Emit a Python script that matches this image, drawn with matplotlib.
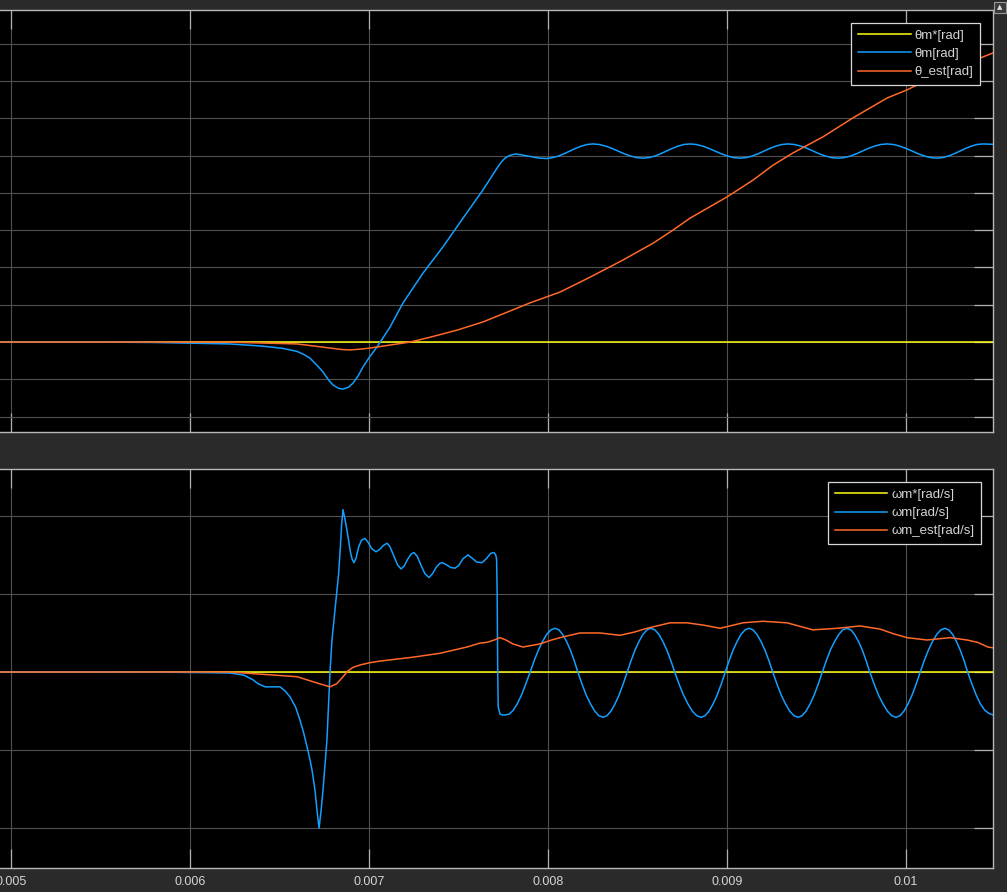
import numpy as np
import matplotlib
matplotlib.use("Agg")
import matplotlib.pyplot as plt
from matplotlib.patches import Rectangle

# ---------------- data (time in ms) ----------------
x_ticks = [0.005, 0.006, 0.007, 0.008, 0.009, 0.010]
x_tick_labels = ["0.005", "0.006", "0.007", "0.008", "0.009", "0.01"]

ref_t = [4.90, 10.55]
theta_ref = [0.0, 0.0]
omega_ref = [0.0, 0.0]

theta_m_t = [4.90, 5.50, 5.80, 6.2235, 6.408, 6.520, 6.598, 6.635, 6.670, 6.705, 6.743, 6.775, 6.799,
             6.830, 6.855, 6.885, 6.911, 6.940, 6.966, 7.000, 7.045, 7.117, 7.190, 7.302, 7.413,
             7.525, 7.637, 7.715, 7.738, 7.760, 7.785, 7.816, 7.850, 7.883, 7.950, 7.994,
             8.026, 8.058, 8.090, 8.122, 8.155, 8.187, 8.219, 8.251,
             8.286, 8.321, 8.356, 8.391, 8.426, 8.461, 8.496, 8.531,
             8.564, 8.597, 8.629, 8.662, 8.695, 8.728, 8.760, 8.793,
             8.828, 8.863, 8.898, 8.933, 8.968, 9.003, 9.038, 9.073,
             9.107, 9.140, 9.174, 9.207, 9.241, 9.274, 9.308, 9.341,
             9.376, 9.411, 9.446, 9.481, 9.515, 9.550, 9.585, 9.620,
             9.654, 9.689, 9.723, 9.757, 9.791, 9.826, 9.860, 9.894,
             9.929, 9.964, 9.999, 10.034, 10.068, 10.103, 10.138, 10.173,
             10.205, 10.237, 10.269, 10.302, 10.334, 10.366, 10.398, 10.430,
             10.486, 10.55]
theta_m = [0.0, 0.0, -0.01, -0.05, -0.11, -0.17, -0.25, -0.33, -0.43, -0.60, -0.80, -1.02, -1.15,
           -1.24, -1.26, -1.21, -1.10, -0.90, -0.67, -0.42, -0.13, 0.40, 1.05, 1.85, 2.55,
           3.32, 4.08, 4.66, 4.82, 4.93, 5.00, 5.04, 5.02, 4.99, 4.93, 4.92,
           4.944, 4.986, 5.047, 5.12, 5.193, 5.254, 5.296, 5.31,
           5.296, 5.254, 5.193, 5.12, 5.047, 4.986, 4.944, 4.93,
           4.944, 4.986, 5.047, 5.12, 5.193, 5.254, 5.296, 5.31,
           5.296, 5.254, 5.193, 5.12, 5.047, 4.986, 4.944, 4.93,
           4.944, 4.986, 5.047, 5.12, 5.193, 5.254, 5.296, 5.31,
           5.296, 5.254, 5.193, 5.12, 5.047, 4.986, 4.944, 4.93,
           4.944, 4.986, 5.047, 5.12, 5.193, 5.254, 5.296, 5.31,
           5.296, 5.254, 5.193, 5.12, 5.047, 4.986, 4.944, 4.93,
           4.944, 4.986, 5.047, 5.12, 5.193, 5.254, 5.296, 5.31,
           5.30, 5.27]

theta_est_t = [4.90, 6.20, 6.598, 6.700, 6.782, 6.850, 6.894, 6.950, 7.006, 7.117, 7.229, 7.341,
               7.492, 7.637, 7.771, 7.899, 8.067, 8.235, 8.419, 8.587, 8.698, 8.793, 9.000,
               9.145, 9.257, 9.369, 9.536, 9.704, 9.894, 10.006, 10.117, 10.285, 10.413,
               10.486, 10.55]
theta_est = [0.0, 0.0, -0.05, -0.11, -0.16, -0.20, -0.21, -0.19, -0.16, -0.08, 0.0, 0.13,
             0.32, 0.54, 0.80, 1.05, 1.34, 1.74, 2.20, 2.65, 3.00, 3.32, 3.89,
             4.34, 4.74, 5.07, 5.50, 6.01, 6.54, 6.76, 7.02, 7.37, 7.61,
             7.75, 7.85]

omega_m_t = [4.90, 5.50, 5.90, 6.10, 6.2235, 6.30, 6.352, 6.380, 6.42, 6.503, 6.530, 6.559,
             6.590, 6.615, 6.635, 6.654, 6.670, 6.682, 6.698, 6.710, 6.721, 6.732, 6.743, 6.765,
             6.782, 6.793, 6.830, 6.840, 6.848, 6.855, 6.862, 6.872, 6.883, 6.895, 6.905, 6.916,
             6.928, 6.942, 6.958, 6.978, 6.995, 7.015, 7.039, 7.060, 7.080, 7.101, 7.118, 7.140,
             7.160, 7.179, 7.197, 7.215, 7.235, 7.251, 7.270, 7.290, 7.312, 7.335, 7.355, 7.375,
             7.395, 7.408, 7.428, 7.455, 7.480, 7.500, 7.525, 7.553, 7.575, 7.600, 7.631, 7.655,
             7.680, 7.698, 7.708, 7.713, 7.716, 7.719, 7.722, 7.732, 7.745,
             7.760, 7.783, 7.806, 7.830, 7.853, 7.876, 7.899,
             7.922, 7.946, 7.969, 7.992, 8.016, 8.039,
             8.061, 8.082, 8.104, 8.125, 8.147, 8.168,
             8.191, 8.214, 8.238, 8.261, 8.284, 8.307,
             8.329, 8.352, 8.374, 8.396, 8.419, 8.441,
             8.463, 8.486, 8.508, 8.530, 8.553, 8.575,
             8.597, 8.620, 8.642, 8.664, 8.687, 8.709,
             8.733, 8.758, 8.782, 8.806, 8.831, 8.855,
             8.877, 8.900, 8.922, 8.944, 8.967, 8.989,
             9.011, 9.034, 9.056, 9.078, 9.101, 9.123,
             9.145, 9.168, 9.190, 9.212, 9.235, 9.257,
             9.280, 9.304, 9.327, 9.350, 9.374, 9.397,
             9.419, 9.442, 9.464, 9.486, 9.509, 9.531,
             9.554, 9.577, 9.601, 9.624, 9.647, 9.670,
             9.692, 9.713, 9.735, 9.756, 9.778, 9.799,
             9.823, 9.847, 9.872, 9.896, 9.920, 9.944,
             9.966, 9.989, 10.011, 10.033, 10.056, 10.078,
             10.101, 10.125, 10.148, 10.171, 10.195, 10.218,
             10.239, 10.261, 10.282, 10.303, 10.325, 10.346,
             10.369, 10.393, 10.416, 10.440, 10.463, 10.486, 10.55]
omega_m = [0, 0, -0.3, -0.8, -1.3, -4, -10, -15, -19, -19, -24, -32,
           -45, -62, -78, -96, -112, -126, -151, -178, -200, -178, -151, -87,
           -1, 41, 125, 160, 192, 208, 200, 188, 173, 155, 145, 140,
           146, 160, 169, 171, 166, 158, 154, 157, 162, 165, 160, 148,
           137, 132, 136, 144, 151, 153, 148, 137, 126, 121, 126, 134,
           139, 140, 138, 134, 133, 136, 145, 150, 146, 141, 140, 145,
           152, 153, 150, 144, 100, 0, -45, -54, -55,
           -55, -54, -49, -40, -29, -15, -1,
           14, 28, 39, 48, 54, 56,
           54, 48, 39, 28, 14, -1,
           -16, -30, -41, -50, -56, -58,
           -56, -50, -41, -30, -16, -1,
           14, 28, 39, 48, 54, 56,
           54, 48, 39, 28, 14, -1,
           -16, -30, -41, -50, -56, -58,
           -56, -50, -41, -30, -16, -1,
           14, 28, 39, 48, 54, 56,
           54, 48, 39, 28, 14, -1,
           -16, -30, -41, -50, -56, -58,
           -56, -50, -41, -30, -16, -1,
           14, 28, 39, 48, 54, 56,
           54, 48, 39, 28, 14, -1,
           -16, -30, -41, -50, -56, -58,
           -56, -50, -41, -30, -16, -1,
           14, 28, 39, 48, 54, 56,
           54, 48, 39, 28, 14, -1,
           -16, -30, -41, -49, -53, -55, -58]

omega_est_t = [4.90, 6.00, 6.2235, 6.598, 6.709, 6.782, 6.820, 6.855, 6.880, 6.911, 6.950, 7.006,
               7.061, 7.246, 7.397, 7.547, 7.620, 7.659, 7.700, 7.732, 7.765, 7.804, 7.860, 7.955,
               8.020, 8.084, 8.179, 8.291, 8.402, 8.480, 8.553, 8.682, 8.777, 8.870, 8.961, 9.089,
               9.201, 9.335, 9.480, 9.615, 9.743, 9.855, 9.930, 10.006, 10.117, 10.246, 10.341,
               10.400, 10.458, 10.486, 10.55]
omega_est = [0, 0, 0, -6, -14, -19, -15, -6, 1, 6, 9, 12,
             14, 19, 24, 32, 37, 38, 41, 44, 41, 36, 32, 36,
             41, 45, 50, 50, 47, 51, 56, 63, 63, 60, 56, 63,
             65, 63, 54, 56, 59, 55, 49, 44, 41, 44, 41,
             38, 32, 31, 28]

# ---------------- style ----------------
BG = "#2a2a2a"
YEL = "#ffff11"
BLUE = "#139fff"
ORG = "#ff6929"
GRID = "#515151"
SPINE = "#b8b8b8"
TICK = "#b0b0b0"
TXT = "#d4d4d4"

plt.rcParams['font.family'] = ['Liberation Sans Narrow', 'Liberation Sans', 'DejaVu Sans']

fig = plt.figure(figsize=(10.07, 8.92), dpi=100, facecolor=BG)
W, H = 1007.0, 892.0

ax1 = fig.add_axes([0, (H - 432) / H, 993 / W, 422 / H])
ax2 = fig.add_axes([0, (H - 868) / H, 993 / W, 399 / H])

t_ms = lambda a: np.asarray(a) * 1e-3

ax1.plot(t_ms(ref_t), theta_ref, color=YEL, lw=1.1, label="θm*[rad]", zorder=3)
ax1.plot(t_ms(theta_m_t), theta_m, color=BLUE, lw=1.1, label="θm[rad]", zorder=4)
ax1.plot(t_ms(theta_est_t), theta_est, color=ORG, lw=1.1, label="θ_est[rad]", zorder=5)

ax2.plot(t_ms(ref_t), omega_ref, color=YEL, lw=1.1, label="ωm*[rad/s]", zorder=3)
ax2.plot(t_ms(omega_m_t), omega_m, color=BLUE, lw=1.1, label="ωm[rad/s]", zorder=4)
ax2.plot(t_ms(omega_est_t), omega_est, color=ORG, lw=1.1, label="ωm_est[rad/s]", zorder=5)

xlim = (4.9385e-3, 10.486e-3)
ax1.set_ylim(-2.41, 8.90)
ax1.set_yticks(np.arange(-2, 9, 1))
ax2.set_ylim(-251, 260)
ax2.set_yticks([-200, -100, 0, 100, 200])

for ax in (ax1, ax2):
    ax.set_facecolor("black")
    ax.set_xlim(*xlim)
    ax.set_xticks(x_ticks)
    ax.grid(True, color=GRID, lw=0.8)
    ax.set_axisbelow(True)
    for s in ("top", "bottom", "right"):
        ax.spines[s].set_color(SPINE)
        ax.spines[s].set_linewidth(1.0)
    ax.spines["left"].set_visible(False)
    ax.tick_params(axis="x", direction="in", length=13.5, width=0.9, color=TICK,
                   top=True, bottom=True, labelcolor=TXT, labelsize=9, pad=6)
    ax.tick_params(axis="y", direction="in", length=13.5, width=0.9, color=TICK,
                   left=False, right=True, labelleft=False, labelright=False)

ax1.tick_params(axis="x", labelbottom=False)
ax2.set_xticklabels(x_tick_labels)

for ax, anchor in ((ax1, (0.987, 0.969)), (ax2, (0.988, 0.967))):
    leg = ax.legend(loc="upper right", bbox_to_anchor=anchor, fontsize=9.5,
                    frameon=True, fancybox=False, facecolor="black", edgecolor="#d8d8d8",
                    framealpha=1.0, handlelength=4.0, handletextpad=0.3,
                    labelspacing=0.45, borderpad=0.5, borderaxespad=0.0)
    leg.get_frame().set_linewidth(0.9)
    for txt in leg.get_texts():
        txt.set_color(TXT)
    leg.set_zorder(10)

# small corner button
fig.patches.append(Rectangle((994 / W, (H - 13) / H), 12 / W, 11 / H, transform=fig.transFigure,
                             facecolor="#3a3a3a", edgecolor="#9a9a9a", lw=0.8))
fig.text(1000 / W, (H - 7.5) / H, "▲", color="#e0e0e0", fontsize=5, ha="center", va="center",
         family="DejaVu Sans")

fig.savefig("out.png", dpi=100, facecolor=BG)
